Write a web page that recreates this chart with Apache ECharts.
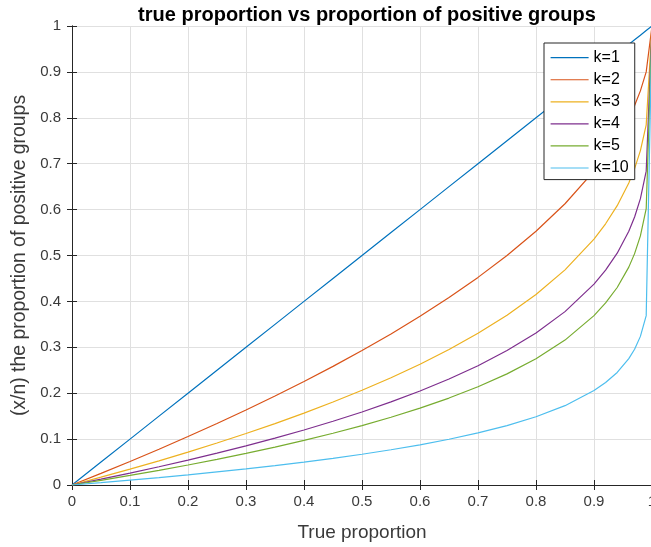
<!DOCTYPE html>
<html>
<head>
<meta charset="utf-8">
<script src="https://cdn.jsdelivr.net/npm/echarts@6/dist/echarts.min.js"></script>
<style>
  html, body { margin: 0; padding: 0; background: #fff; }
  #chart { width: 651px; height: 547px; }
</style>
</head>
<body>
<div id="chart"></div>
<script>
// True proportion p (shared x values for every curve)
const X = [0, 0.05, 0.1, 0.15, 0.2, 0.25, 0.3, 0.35, 0.4, 0.45, 0.5, 0.55, 0.6, 0.65, 0.7, 0.75, 0.8, 0.85, 0.9, 0.92, 0.94, 0.96, 0.97, 0.98, 0.99, 1];

// Proportion of positive groups for each group size k
const K1  = [0, 0.05, 0.1, 0.15, 0.2, 0.25, 0.3, 0.35, 0.4, 0.45, 0.5, 0.55, 0.6, 0.65, 0.7, 0.75, 0.8, 0.85, 0.9, 0.92, 0.94, 0.96, 0.97, 0.98, 0.99, 1];
const K2  = [0, 0.0253, 0.0513, 0.0780, 0.1056, 0.1340, 0.1633, 0.1938, 0.2254, 0.2584, 0.2929, 0.3292, 0.3675, 0.4084, 0.4523, 0.5000, 0.5528, 0.6127, 0.6838, 0.7172, 0.7551, 0.8000, 0.8268, 0.8586, 0.9000, 1];
const K3  = [0, 0.0170, 0.0345, 0.0527, 0.0717, 0.0914, 0.1121, 0.1338, 0.1566, 0.1807, 0.2063, 0.2337, 0.2632, 0.2953, 0.3306, 0.3700, 0.4152, 0.4687, 0.5358, 0.5691, 0.6085, 0.6580, 0.6893, 0.7286, 0.7846, 1];
const K4  = [0, 0.0127, 0.0260, 0.0398, 0.0543, 0.0694, 0.0853, 0.1021, 0.1199, 0.1388, 0.1591, 0.1810, 0.2047, 0.2308, 0.2599, 0.2929, 0.3313, 0.3777, 0.4377, 0.4682, 0.5051, 0.5528, 0.5838, 0.6239, 0.6838, 1];
const K5  = [0, 0.0102, 0.0209, 0.0320, 0.0436, 0.0559, 0.0689, 0.0825, 0.0971, 0.1127, 0.1294, 0.1476, 0.1674, 0.1894, 0.2140, 0.2421, 0.2752, 0.3157, 0.3690, 0.3966, 0.4303, 0.4747, 0.5041, 0.5427, 0.6019, 1];
const K10 = [0, 0.0051, 0.0105, 0.0161, 0.0221, 0.0284, 0.0350, 0.0422, 0.0498, 0.0580, 0.0670, 0.0768, 0.0876, 0.0997, 0.1134, 0.1294, 0.1487, 0.1728, 0.2057, 0.2232, 0.2452, 0.2752, 0.2958, 0.3238, 0.3690, 1];

const seriesNames = ['k=1', 'k=2', 'k=3', 'k=4', 'k=5', 'k=10'];
const seriesValues = [K1, K2, K3, K4, K5, K10];
const seriesColors = ['#0072BD', '#D95319', '#EDB120', '#7E2F8E', '#77AC30', '#4DBEEE'];

// Tick labels shared by both axes (0, 0.1, ..., 1)
const tickLabels = ['0', '0.1', '0.2', '0.3', '0.4', '0.5', '0.6', '0.7', '0.8', '0.9', '1'];

const FONT = "'Liberation Sans', Arial, Helvetica, sans-serif";
const AXIS_COLOR = '#262626';
const GRID_COLOR = '#e0e0e0';
const LABEL_COLOR = '#3a3a3a';

const tickFmt = v => tickLabels[Math.round(v * 10)] ?? '';

function mainAxis(extra) {
  return Object.assign({
    type: 'value',
    min: 0,
    max: 1,
    interval: 0.1,
    axisLine: { show: true, lineStyle: { color: AXIS_COLOR, width: 1 } },
    axisTick: { show: true, inside: true, length: 5, lineStyle: { color: AXIS_COLOR } },
    splitLine: { show: true, lineStyle: { color: GRID_COLOR, width: 1 } }
  }, extra);
}

function mirrorAxis(extra) {
  return Object.assign({
    type: 'value',
    min: 0,
    max: 1,
    interval: 0.1,
    axisLine: { show: true, lineStyle: { color: AXIS_COLOR, width: 1 } },
    axisTick: { show: true, inside: true, length: 5, lineStyle: { color: AXIS_COLOR } },
    splitLine: { show: false },
    axisLabel: { show: false }
  }, extra);
}

const chart = echarts.init(document.getElementById('chart'), null, { renderer: 'canvas' });

chart.setOption({
  animation: false,
  backgroundColor: '#ffffff',
  title: {
    text: 'true proportion vs proportion of positive groups',
    left: 362,
    top: -1,
    textAlign: 'center',
    textStyle: { fontFamily: FONT, fontSize: 20, fontWeight: 'bold', color: '#000', lineHeight: 22 }
  },
  grid: { left: 72, top: 26, width: 580, height: 459, containLabel: false, outerBoundsMode: 'none' },
  xAxis: [
    mainAxis({
      position: 'bottom',
      name: 'True proportion',
      nameLocation: 'middle',
      nameGap: 38,
      nameTextStyle: { fontFamily: FONT, fontSize: 19, color: LABEL_COLOR },
      axisLabel: { formatter: tickFmt, color: LABEL_COLOR, fontFamily: FONT, fontSize: 15, margin: 9 }
    }),
    mirrorAxis({ position: 'top' })
  ],
  yAxis: [
    mainAxis({
      position: 'left',
      name: '(x/n) the proportion of positive groups',
      nameLocation: 'middle',
      nameGap: 27,
      nameRotate: 90,
      nameTextStyle: { fontFamily: FONT, fontSize: 19.4, color: LABEL_COLOR },
      axisLabel: { formatter: tickFmt, color: LABEL_COLOR, fontFamily: FONT, fontSize: 15, margin: 11 }
    }),
    mirrorAxis({ position: 'right' })
  ],
  legend: {
    orient: 'vertical',
    left: 544,
    top: 43,
    padding: [6.7, 6, 3.6, 6],
    itemWidth: 38,
    itemHeight: 14,
    itemGap: 6.06,
    backgroundColor: '#ffffff',
    borderColor: AXIS_COLOR,
    borderWidth: 1,
    borderRadius: 0,
    itemStyle: { opacity: 0 },
    lineStyle: { width: 1.2 },
    textStyle: { fontFamily: FONT, fontSize: 16, color: '#000', lineHeight: 14 },
    data: seriesNames
  },
  series: seriesNames.map((name, i) => ({
    name: name,
    type: 'line',
    xAxisIndex: 0,
    yAxisIndex: 0,
    symbol: 'none',
    smooth: false,
    color: seriesColors[i],
    lineStyle: { color: seriesColors[i], width: 1.2 },
    data: X.map((x, j) => [x, seriesValues[i][j]])
  }))
});
</script>
</body>
</html>
